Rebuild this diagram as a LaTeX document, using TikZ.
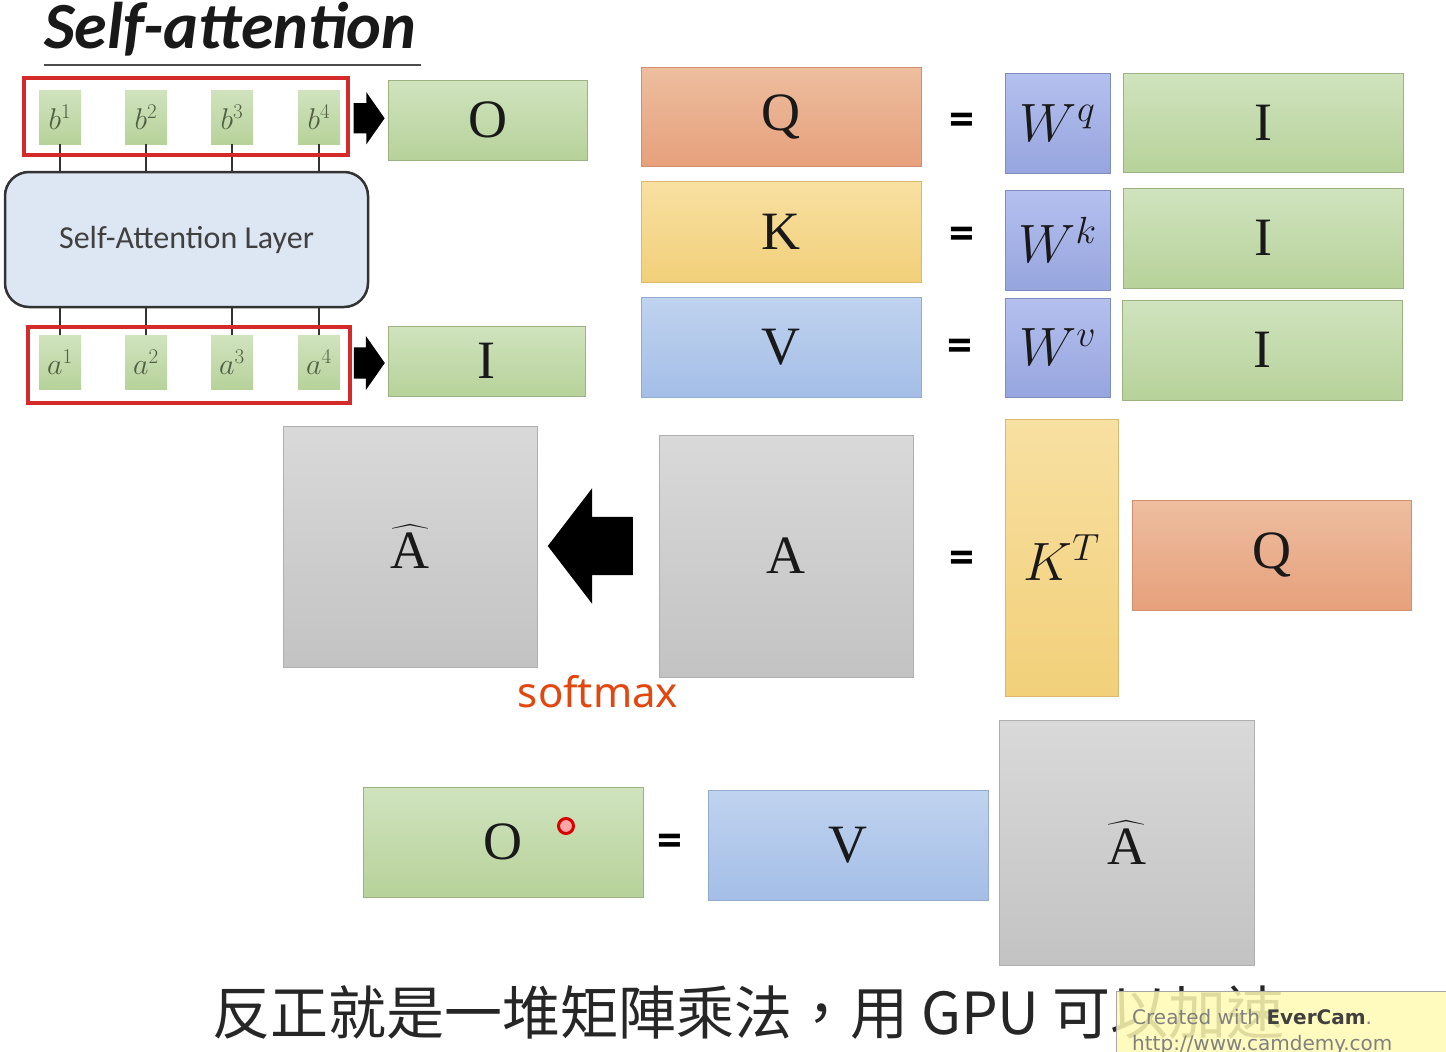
\documentclass[tikz,border=0pt]{standalone}
\usepackage{fix-cm}
\usepackage{amsmath}
\usepackage{fontspec}
\usepackage{tikz}
\usetikzlibrary{shapes.arrows,positioning,calc}
\newfontfamily\carlito{Carlito}
\newfontfamily\cjkfont{Noto Sans CJK TC}
\newfontfamily\notosans{Noto Sans}
\newfontfamily\dejavu{DejaVu Sans}
\newfontfamily\matfont{Liberation Serif}

\definecolor{gtop}{HTML}{D0E3BE}
\definecolor{gbot}{HTML}{B7D29A}
\definecolor{otop}{HTML}{EDBE9F}
\definecolor{obot}{HTML}{E7A07C}
\definecolor{ytop}{HTML}{F8E0A2}
\definecolor{ybot}{HTML}{F2D07A}
\definecolor{btop}{HTML}{C0D3EF}
\definecolor{bbot}{HTML}{A4BEE7}
\definecolor{ptop}{HTML}{B4C0EE}
\definecolor{pbot}{HTML}{97A5DF}
\definecolor{atop}{HTML}{D9D9D9}
\definecolor{abot}{HTML}{C3C3C3}
\definecolor{layerfill}{HTML}{DDE7F3}
\definecolor{framered}{HTML}{D42A2A}
\definecolor{smaxred}{HTML}{E2470F}

\tikzset{
  mat/.style={draw, line width=0.8pt, inner sep=0pt, text=black!90, font=\matfont\fontsize{54}{60}\selectfont},
  gmat/.style={mat, draw=gbot!85!black, top color=gtop, bottom color=gbot},
  omat/.style={mat, draw=obot!90!black, top color=otop, bottom color=obot},
  ymat/.style={mat, draw=ybot!90!black, top color=ytop, bottom color=ybot},
  bmat/.style={mat, draw=bbot!90!black, top color=btop, bottom color=bbot},
  pmat/.style={mat, draw=pbot!85!black, top color=ptop, bottom color=pbot},
  amat/.style={mat, draw=abot!90!black, top color=atop, bottom color=abot},
  vec/.style={draw=none, inner sep=0pt, minimum width=42, minimum height=54,
    top color=gtop, bottom color=gbot, text=black!55!gbot, font=\fontsize{30}{34}\selectfont},
  redframe/.style={draw=framered, line width=4pt, inner sep=0pt},
  eqsign/.style={font=\carlito\bfseries\fontsize{50}{52}\selectfont, inner sep=0pt},
  fatarrow/.style={single arrow, fill=black, draw=none, inner xsep=0pt}
}

\begin{document}
\begin{tikzpicture}[x=1pt,y=-1pt]
\useasboundingbox (0,0) rectangle (1446,1052);
\fill[white] (0,0) rectangle (1446,1052);

% title
\node[anchor=base west, inner sep=0pt, text=black!90,
  font=\carlito\bfseries\itshape\fontsize{66}{70}\selectfont] (title) at (44,48) {Self-attention};
\draw[black!70, line width=1.5pt] ($(title.base west)+(0,17)$) -- ($(title.base east)+(4,17)$);

% self-attention layer with inputs and outputs
\node[draw=black!80, line width=2.5pt, rounded corners=24, fill=layerfill,
  minimum width=363, minimum height=135, text=black!75,
  font=\carlito\fontsize{32}{36}\selectfont] (layer) at (186.5,239.5) {Self-Attention Layer};

\foreach \i/\x in {1/60,2/146,3/232,4/319}{
  \node[vec] (b\i) at (\x,117) {$b^{\i}$};
  \node[vec] (a\i) at (\x,362.5) {$a^{\i}$};
  \draw[black!80, line width=1.3pt] (b\i.south) -- (b\i.south |- layer.north);
  \draw[black!80, line width=1.3pt] (a\i.north) -- (a\i.north |- layer.south);
}
\node[redframe, minimum width=324, minimum height=77] (outs) at (186,116.5) {};
\node[redframe, minimum width=322, minimum height=76] (ins) at (189,365) {};

\node[gmat, minimum width=199, minimum height=80] (Otop) at (487.5,120) {O};
\node[gmat, minimum width=197, minimum height=70] (Itop) at (486.5,361) {I};
\node[fatarrow, inner ysep=15, minimum height=31, single arrow head extend=11,
  single arrow tip angle=110] (outarrow) at ($(outs.east)!0.5!(Otop.west)+(-5,0)$) {};
\node[fatarrow, inner ysep=15.5, minimum height=31, single arrow head extend=11.5,
  single arrow tip angle=110] (inarrow) at ($(ins.east)!0.5!(Itop.west)+(-6,0)$) {};

% Q K V = W I
\node[omat, minimum width=280, minimum height=99] (Q) at (781,116.5) {Q};
\node[ymat, minimum width=280, minimum height=101] (K) at (781,231.5) {K};
\node[bmat, minimum width=280, minimum height=100] (V) at (781,347) {V};
\node[eqsign] (eqq) at (962,124) {=};
\node[eqsign] (eqk) at (962,238) {=};
\node[eqsign] (eqv) at (960,350) {=};
\node[pmat, minimum width=105, minimum height=100] (Wq) at (1057.5,123) {$W^q$};
\node[pmat, minimum width=105, minimum height=100] (Wk) at (1057.5,240) {$W^k$};
\node[pmat, minimum width=105, minimum height=99] (Wv) at (1057.5,347.5) {$W^v$};
\node[gmat, minimum width=280, minimum height=99] (Iq) at (1263,122.5) {I};
\node[gmat, minimum width=280, minimum height=100] (Ik) at (1263,238) {I};
\node[gmat, minimum width=280, minimum height=100] (Iv) at (1262,350) {I};

% attention matrix
\node[amat, minimum width=254, minimum height=241] (Ahat) at (410,546.5) {$\widehat{\text{A}}$};
\node[amat, minimum width=254, minimum height=242] (A) at (786,556) {A};
\node[fatarrow, shape border rotate=180, inner ysep=29, minimum height=85,
  single arrow head extend=28.5, single arrow tip angle=105] (smaxarrow) at (601.5,546) {};
\node[anchor=base, text=smaxred, inner sep=0pt,
  font=\notosans\fontsize{42}{46}\selectfont] (smax) at (598,707) {softmax};
\node[eqsign] (eqa) at (962,562) {=};
\node[ymat, minimum width=113, minimum height=277] (KT) at (1061.5,557.5) {$K^T$};
\node[omat, minimum width=279, minimum height=110] (Q2) at (1271.5,555) {Q};

% output
\node[gmat, minimum width=280, minimum height=110] (Obot) at (503,842) {O};
\node[circle, draw=red!85!black, line width=3pt, fill=red!35!white, minimum size=15, inner sep=0pt] (pointer) at (566,826) {};
\node[eqsign] (eqo) at (670,845) {=};
\node[bmat, minimum width=280, minimum height=110] (Vbot) at (848,845) {V};
\node[amat, minimum width=255, minimum height=245] (Ahat2) at (1126.5,842.5) {$\widehat{\text{A}}$};

% caption and watermark
\node[anchor=base west, inner sep=0pt, text=black!85,
  font=\cjkfont\fontsize{58}{62}\selectfont] (caption) at (212,1034) {反正就是一堆矩陣乘法，用 GPU 可以加速};
\node[anchor=north west, draw=black!35, fill=yellow!30, fill opacity=0.85,
  minimum width=335, minimum height=64, inner sep=0pt] (wmark) at (1116,991) {};
\node[anchor=base west, inner sep=0pt, text=black!50,
  font=\dejavu\fontsize{20}{22}\selectfont] (wm1) at (1132,1024) {Created with \textbf{\color{black!75}EverCam}.};
\node[anchor=base west, inner sep=0pt, text=black!50,
  font=\dejavu\fontsize{20}{22}\selectfont] (wm2) at (1132,1050) {http://www.camdemy.com};
\end{tikzpicture}
\end{document}
